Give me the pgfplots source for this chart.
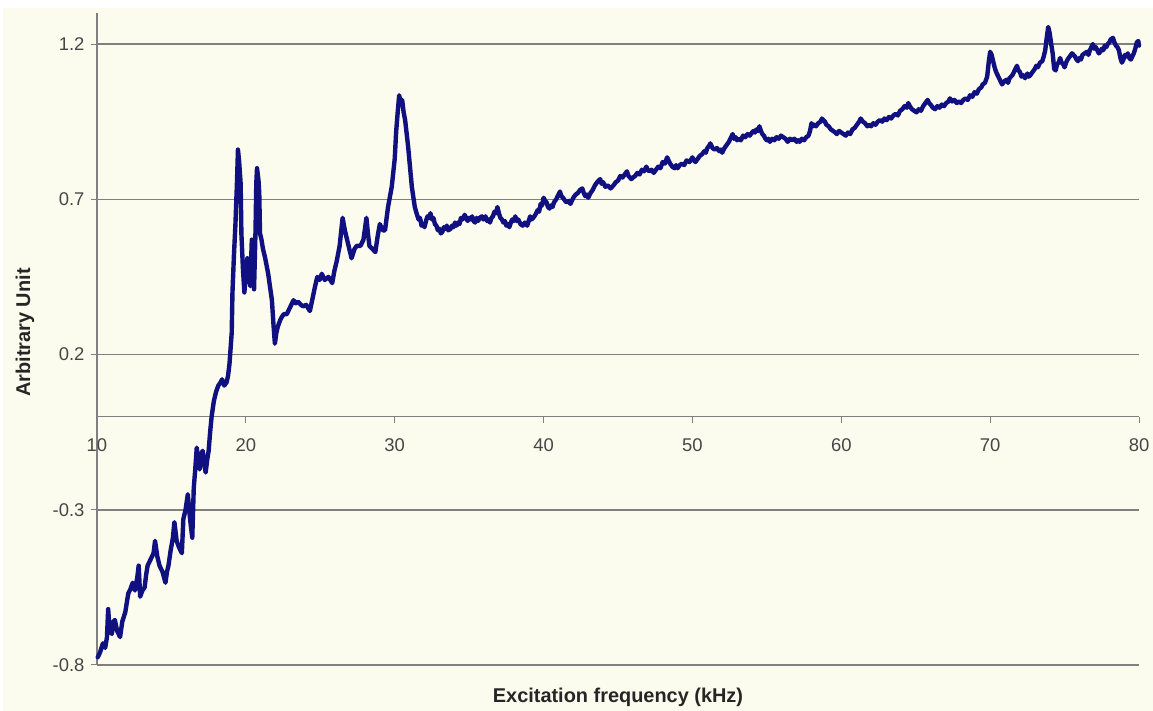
\documentclass[border=0pt]{standalone}
\usepackage{pgfplots}
\pgfplotsset{compat=1.18}
\usepackage{fontspec}
\setmainfont{Liberation Sans}

\definecolor{bgcream}{RGB}{252,252,238}
\definecolor{gridgray}{RGB}{128,128,128}
\definecolor{labelgray}{RGB}{70,70,70}
\definecolor{tracenavy}{RGB}{16,16,128}

\begin{document}
\begin{tikzpicture}[x=1bp,y=1bp]
\fill[white] (0,0) rectangle (1153,711);
\fill[bgcream] (3,0) rectangle (1153,703);
\begin{axis}[
  at={(97bp,46bp)}, anchor=south west,
  scale only axis, width=1042bp, height=652bp,
  xmin=10, xmax=80, ymin=-0.8, ymax=1.3,
  axis x line=middle, axis y line=left,
  axis line style={-, draw=gridgray, line width=1.5bp},
  hide obscured x ticks=false,
  xtick={10,20,...,80},
  ytick={-0.8,-0.3,0.2,0.7,1.2},
  yticklabels={-0.8,-0.3,0.2,0.7,1.2},
  xticklabels={10,20,30,40,50,60,70,80},
  tick align=outside,
  major tick length=6bp,
  tick style={draw=gridgray, line width=1bp},
  ymajorgrids,
  grid style={draw=gridgray, line width=1.5bp},
  /pgf/number format/assume math mode=true,
  tick label style={font=\fontsize{18.5}{21}\selectfont, text=labelgray},
  yticklabel style={xshift=-3bp},
  xticklabel style={yshift=-13bp},
  every axis y label/.style={at={(axis description cs:-0.0691,0.51)}, rotate=90, anchor=center},
  every axis x label/.style={at={(axis description cs:0.5,-0.049)}, anchor=center},
  label style={font=\bfseries\fontsize{20}{23}\selectfont, text=black!85},
  xlabel={Excitation frequency (kHz)},
  ylabel={Arbitrary Unit},
  clip=false,
]
\addplot[tracenavy, line width=4.4bp, line join=round, line cap=round] coordinates {
(10.05,-0.775) (10.2,-0.76) (10.4,-0.73) (10.55,-0.745) (10.67,-0.71) (10.75,-0.62)
(10.85,-0.69) (11.0,-0.70) (11.1,-0.66) (11.2,-0.655) (11.35,-0.69) (11.55,-0.71)
(11.7,-0.66) (11.9,-0.63) (12.0,-0.60) (12.1,-0.57) (12.25,-0.555) (12.4,-0.535)
(12.55,-0.56) (12.7,-0.52) (12.8,-0.48) (12.9,-0.58) (13.05,-0.56) (13.2,-0.55)
(13.3,-0.51) (13.4,-0.48) (13.6,-0.46) (13.8,-0.44) (13.9,-0.40) (14.05,-0.45)
(14.2,-0.48) (14.4,-0.50) (14.6,-0.535) (14.7,-0.50) (14.8,-0.48) (14.95,-0.43)
(15.1,-0.39) (15.2,-0.34) (15.35,-0.40) (15.5,-0.42) (15.7,-0.44) (15.8,-0.33)
(15.95,-0.30) (16.1,-0.25) (16.25,-0.33) (16.4,-0.39) (16.5,-0.23) (16.6,-0.17)
(16.7,-0.10) (16.8,-0.14) (16.9,-0.17) (17.0,-0.12) (17.1,-0.11) (17.2,-0.15)
(17.3,-0.18) (17.4,-0.14) (17.5,-0.11) (17.6,-0.05) (17.7,0.0) (17.85,0.05)
(18.0,0.08) (18.15,0.10) (18.3,0.11) (18.4,0.12) (18.55,0.10) (18.7,0.11)
(18.8,0.13) (18.9,0.17) (19.05,0.27) (19.1,0.40) (19.2,0.52) (19.3,0.62)
(19.4,0.75) (19.47,0.86) (19.55,0.82) (19.65,0.75) (19.7,0.59) (19.8,0.48)
(19.9,0.40) (20.0,0.46) (20.1,0.51) (20.2,0.45) (20.3,0.42) (20.4,0.57)
(20.5,0.50) (20.55,0.41) (20.65,0.60) (20.7,0.75) (20.75,0.80) (20.85,0.76)
(20.9,0.72) (20.95,0.59) (21.05,0.57) (21.15,0.54) (21.3,0.51) (21.5,0.46)
(21.75,0.375) (21.85,0.30) (21.95,0.235) (22.05,0.27) (22.15,0.29) (22.3,0.31)
(22.4,0.32) (22.55,0.33) (22.75,0.33) (22.95,0.35) (23.2,0.375) (23.35,0.365)
(23.5,0.37) (23.7,0.36) (23.85,0.355) (24.05,0.36) (24.3,0.34) (24.5,0.385)
(24.65,0.42) (24.8,0.45) (24.95,0.44) (25.1,0.46) (25.3,0.44) (25.55,0.45)
(25.8,0.43) (25.95,0.47) (26.1,0.50) (26.3,0.55) (26.5,0.64) (26.65,0.60)
(26.8,0.57) (26.95,0.54) (27.1,0.51) (27.3,0.54) (27.45,0.55) (27.7,0.55)
(27.9,0.57) (28.1,0.64) (28.2,0.59) (28.3,0.55) (28.5,0.54) (28.7,0.53)
(28.85,0.58) (29.0,0.62) (29.2,0.60) (29.35,0.60) (29.55,0.675) (29.8,0.74)
(30.0,0.83) (30.1,0.92) (30.2,0.98) (30.3,1.035) (30.4,1.01) (30.5,1.02)
(30.6,0.98) (30.7,0.955) (30.9,0.87) (31.15,0.74) (31.35,0.675)
(31.5,0.65) (31.6,0.635) (31.7,0.64) (31.8,0.615) (31.9,0.62) (32.0,0.61)
(32.1,0.63) (32.2,0.645) (32.3,0.64) (32.4,0.655) (32.5,0.635) (32.6,0.64)
(32.7,0.62) (32.8,0.615) (32.9,0.60) (33.0,0.605) (33.1,0.59) (33.2,0.595)
(33.3,0.61) (33.4,0.605) (33.5,0.615) (33.6,0.60) (33.75,0.605) (33.85,0.615)
(33.95,0.61) (34.05,0.625) (34.15,0.615) (34.25,0.625) (34.35,0.62) (34.45,0.64)
(34.55,0.635) (34.7,0.65) (34.8,0.64) (34.9,0.63) (35.0,0.64) (35.1,0.635)
(35.2,0.645) (35.3,0.63) (35.4,0.625) (35.5,0.64) (35.6,0.63) (35.7,0.64)
(35.85,0.645) (35.95,0.635) (36.1,0.645) (36.2,0.63) (36.3,0.635) (36.4,0.625)
(36.5,0.64) (36.6,0.645) (36.7,0.66) (36.8,0.655) (36.9,0.675) (37.0,0.655)
(37.1,0.64) (37.2,0.635) (37.3,0.625) (37.4,0.63) (37.5,0.615) (37.6,0.62)
(37.7,0.61) (37.8,0.625) (37.9,0.635) (38.0,0.63) (38.1,0.645) (38.2,0.63)
(38.3,0.635) (38.45,0.62) (38.6,0.615) (38.75,0.625) (38.9,0.615) (39.0,0.63)
(39.1,0.645) (39.2,0.635) (39.3,0.64) (39.45,0.65) (39.6,0.665) (39.7,0.66)
(39.8,0.685) (39.9,0.68) (40.0,0.705) (40.1,0.695) (40.2,0.69) (40.3,0.675)
(40.4,0.67) (40.5,0.68) (40.6,0.675) (40.7,0.69) (40.85,0.70) (40.95,0.71)
(41.1,0.725) (41.2,0.71) (41.3,0.705) (41.45,0.695) (41.55,0.69) (41.7,0.695)
(41.8,0.685) (41.9,0.695) (42.0,0.705) (42.15,0.715) (42.3,0.72) (42.45,0.73)
(42.6,0.735) (42.7,0.72) (42.8,0.71) (42.9,0.715) (43.0,0.705) (43.15,0.72)
(43.3,0.73) (43.45,0.745) (43.6,0.755) (43.7,0.76) (43.8,0.765) (43.9,0.75)
(44.0,0.755) (44.15,0.74) (44.3,0.745) (44.5,0.735) (44.7,0.745) (44.85,0.755)
(45.0,0.76) (45.15,0.775) (45.3,0.77) (45.45,0.78) (45.6,0.79) (45.7,0.775)
(45.8,0.77) (45.9,0.765) (46.0,0.77) (46.15,0.775) (46.3,0.785) (46.45,0.78)
(46.6,0.795) (46.75,0.79) (46.9,0.805) (47.0,0.795) (47.1,0.79) (47.25,0.795)
(47.4,0.785) (47.55,0.795) (47.7,0.805) (47.85,0.80) (48.0,0.82) (48.15,0.815)
(48.3,0.835) (48.4,0.825) (48.5,0.815) (48.65,0.805) (48.8,0.80) (48.9,0.81)
(49.0,0.80) (49.15,0.81) (49.3,0.815) (49.45,0.81) (49.6,0.825) (49.8,0.82)
(50.0,0.835) (50.1,0.825) (50.2,0.82) (50.35,0.83) (50.5,0.84) (50.65,0.845)
(50.8,0.855) (50.9,0.85) (51.0,0.865) (51.1,0.87) (51.2,0.88) (51.35,0.865)
(51.5,0.86) (51.65,0.865) (51.8,0.855) (51.9,0.86) (52.0,0.85) (52.15,0.865)
(52.3,0.875) (52.45,0.885) (52.6,0.90) (52.7,0.91) (52.8,0.895) (52.9,0.90)
(53.0,0.89) (53.1,0.895) (53.25,0.89) (53.4,0.905) (53.55,0.90) (53.7,0.91)
(53.85,0.905) (54.0,0.915) (54.1,0.92) (54.2,0.915) (54.3,0.925) (54.4,0.92)
(54.5,0.935) (54.6,0.92) (54.7,0.91) (54.8,0.905) (54.9,0.895) (55.0,0.89)
(55.1,0.895) (55.2,0.885) (55.35,0.895) (55.5,0.89) (55.65,0.90) (55.8,0.895)
(55.95,0.905) (56.1,0.90) (56.25,0.895) (56.4,0.885) (56.55,0.895) (56.7,0.89)
(56.85,0.895) (57.0,0.885) (57.1,0.89) (57.2,0.885) (57.35,0.895) (57.5,0.89)
(57.65,0.90) (57.8,0.905) (57.9,0.92) (58.0,0.945) (58.1,0.935) (58.2,0.94)
(58.3,0.935) (58.45,0.945) (58.6,0.95) (58.7,0.96) (58.8,0.955) (58.9,0.95)
(59.0,0.94) (59.15,0.935) (59.3,0.925) (59.45,0.92) (59.6,0.915) (59.7,0.91)
(59.85,0.92) (60.0,0.915) (60.15,0.91) (60.3,0.905) (60.45,0.915) (60.6,0.91)
(60.75,0.925) (60.9,0.93) (61.05,0.94) (61.2,0.95) (61.3,0.96) (61.45,0.95)
(61.6,0.945) (61.75,0.935) (61.9,0.94) (62.0,0.935) (62.15,0.945) (62.3,0.94)
(62.45,0.95) (62.6,0.955) (62.75,0.95) (62.9,0.96) (63.05,0.955) (63.2,0.965)
(63.35,0.96) (63.5,0.97) (63.65,0.975) (63.8,0.97) (63.95,0.985) (64.1,0.99)
(64.25,1.00) (64.4,0.995) (64.5,1.01) (64.6,1.00) (64.75,0.99) (64.9,0.985)
(65.05,0.98) (65.2,0.99) (65.35,0.985) (65.5,1.00) (65.65,1.01) (65.8,1.02)
(65.9,1.01) (66.0,1.005) (66.15,0.995) (66.3,0.99) (66.45,1.00) (66.6,0.995)
(66.75,1.005) (66.9,1.00) (67.05,1.01) (67.2,1.015) (67.3,1.025) (67.45,1.015)
(67.6,1.02) (67.75,1.01) (67.9,1.015) (68.05,1.01) (68.2,1.02) (68.35,1.025)
(68.5,1.02) (68.65,1.035) (68.8,1.03) (68.95,1.045) (69.1,1.04) (69.25,1.055)
(69.4,1.06) (69.5,1.07) (69.65,1.075) (69.8,1.095) (69.9,1.14) (70.0,1.175)
(70.1,1.165) (70.2,1.145) (70.3,1.125) (70.4,1.11) (70.5,1.10) (70.65,1.085)
(70.8,1.07) (70.95,1.08) (71.1,1.085) (71.2,1.075) (71.3,1.09) (71.4,1.095)
(71.5,1.10) (71.65,1.115) (71.8,1.13) (71.9,1.115) (72.0,1.11) (72.1,1.095)
(72.2,1.10) (72.35,1.09) (72.5,1.105) (72.6,1.095) (72.7,1.10) (72.85,1.11)
(73.0,1.12) (73.1,1.13) (73.2,1.125) (73.35,1.14) (73.5,1.145) (73.6,1.16)
(73.7,1.18) (73.8,1.22) (73.9,1.255) (74.0,1.235) (74.1,1.20) (74.2,1.17)
(74.3,1.12) (74.4,1.115) (74.5,1.135) (74.6,1.14) (74.7,1.155) (74.8,1.14)
(74.9,1.135) (75.0,1.125) (75.1,1.14) (75.2,1.15) (75.35,1.16) (75.5,1.17)
(75.6,1.165) (75.7,1.16) (75.8,1.15) (75.9,1.145) (76.0,1.155) (76.1,1.15)
(76.2,1.165) (76.35,1.17) (76.5,1.175) (76.6,1.165) (76.7,1.18) (76.8,1.19)
(76.9,1.20) (77.0,1.185) (77.1,1.19) (77.2,1.18) (77.3,1.17) (77.4,1.175)
(77.5,1.185) (77.6,1.18) (77.7,1.195) (77.8,1.19) (77.9,1.20) (78.0,1.205)
(78.1,1.215) (78.25,1.22) (78.35,1.205) (78.45,1.195) (78.55,1.19) (78.65,1.18)
(78.75,1.155) (78.85,1.14) (78.95,1.15) (79.05,1.165) (79.15,1.16) (79.25,1.17)
(79.35,1.155) (79.45,1.15) (79.55,1.16) (79.65,1.17) (79.75,1.185) (79.85,1.205)
(79.95,1.21) (80.0,1.195)
};
\end{axis}
\pgfresetboundingbox
\useasboundingbox (0,0) rectangle (1153,711);
\end{tikzpicture}
\end{document}
